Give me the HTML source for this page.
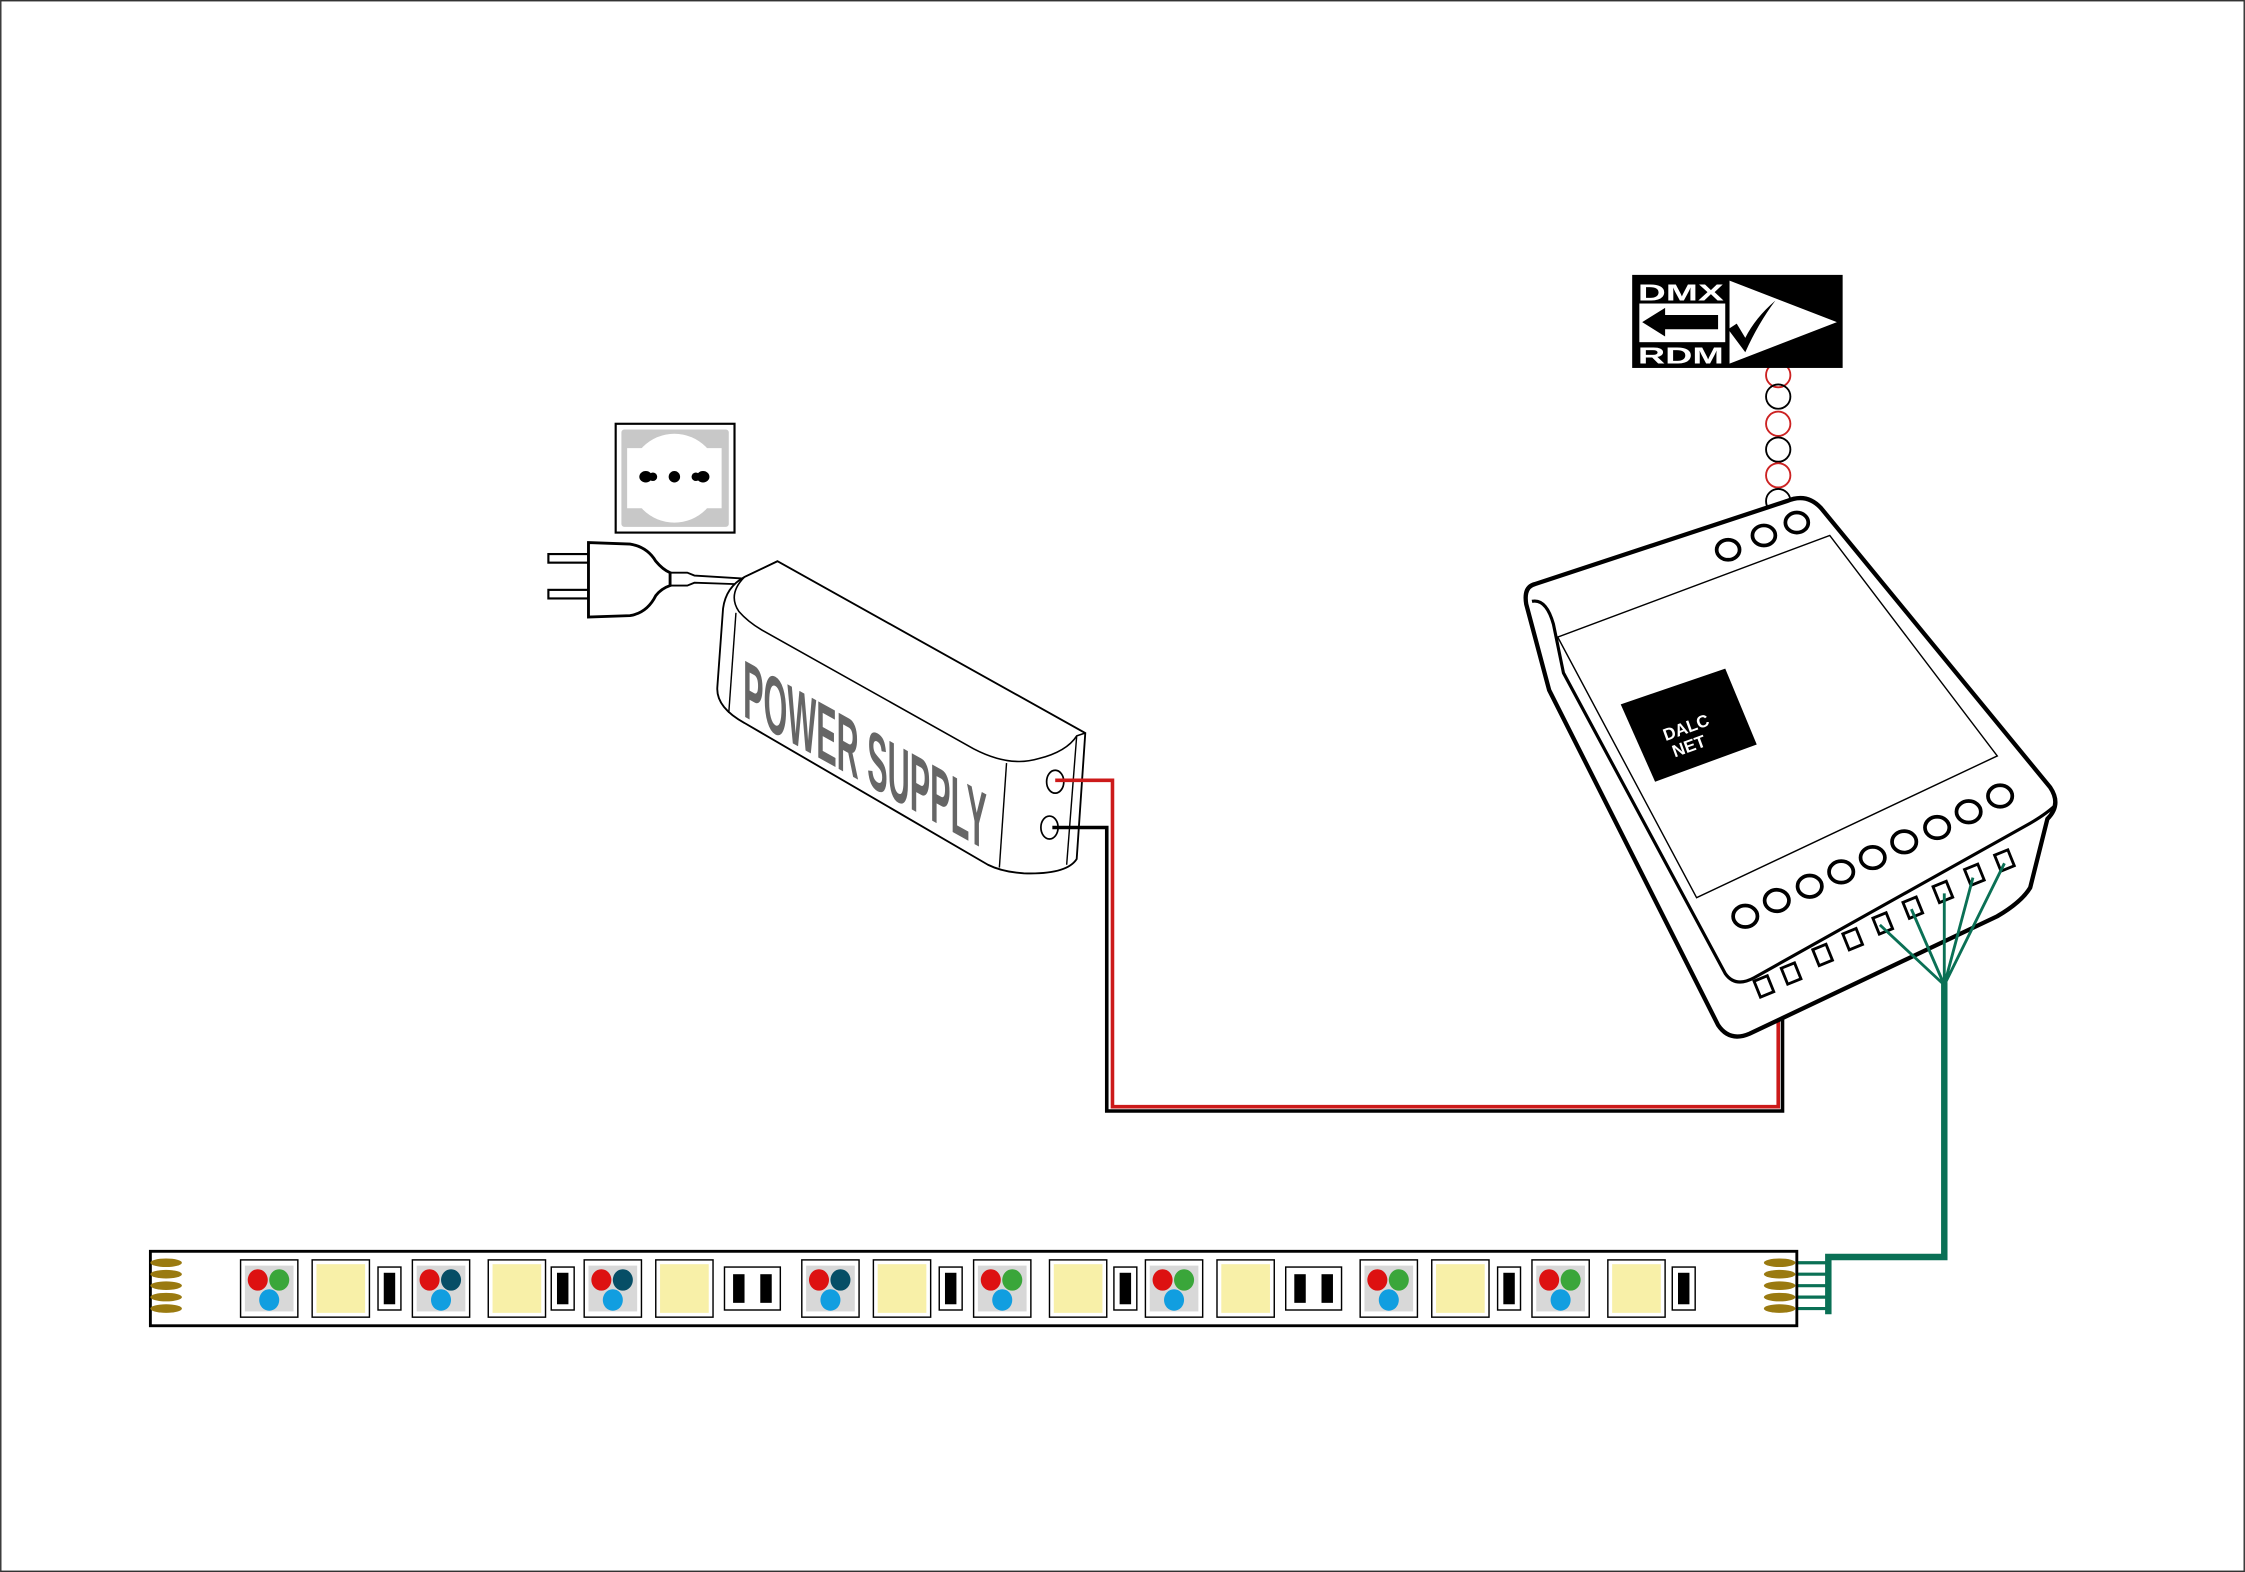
<!DOCTYPE html>
<html><head><meta charset="utf-8"><style>html,body{margin:0;padding:0;background:#fff}svg{display:block}</style></head><body>
<svg width="2245" height="1572" viewBox="0 0 1568 1098" xmlns="http://www.w3.org/2000/svg" font-family="Liberation Sans, sans-serif">
<rect x="0.5" y="0.5" width="1567" height="1097" fill="#fff" stroke="#333" stroke-width="1"/>

<!-- socket -->
<rect x="430" y="296" width="83" height="76" fill="#fff" stroke="#000" stroke-width="1.5"/>
<rect x="434" y="300" width="75" height="68" rx="2" fill="#c8c8c8"/>
<circle cx="471" cy="334" r="31" fill="#fff"/>
<rect x="438" y="313" width="66" height="42" fill="#fff"/>
<ellipse cx="451" cy="333" rx="4.5" ry="4" fill="#000"/><ellipse cx="456" cy="333" rx="3" ry="3" fill="#000"/>
<circle cx="471" cy="333" r="4" fill="#000"/>
<ellipse cx="491" cy="333" rx="4.5" ry="4" fill="#000"/><ellipse cx="486" cy="333" rx="3" ry="3" fill="#000"/>

<!-- plug -->
<rect x="383" y="387" width="28" height="6" fill="#fff" stroke="#000" stroke-width="1.5"/>
<rect x="383" y="412" width="28" height="6" fill="#fff" stroke="#000" stroke-width="1.5"/>
<path d="M411,379 L440,380 Q452,382 458,392 Q463,398 468,400 L468,409 Q462,411 458,416 Q452,428 440,430 L411,431 Z" fill="#fff" stroke="#000" stroke-width="2"/>
<path d="M468,400 L480,400 L485,402 L518,404 M468,409 L480,409 L485,407 L514,408" fill="none" stroke="#000" stroke-width="1.3"/>

<!-- power supply -->
<path d="M543,392 L758,512 L752,600 Q745,611 715,610 Q700,609 690,604 L520,505 Q500,494 501,480 L505,425 Q507,410 520,403 Z" fill="#fff" stroke="#000" stroke-width="1.3"/>
<path d="M543,392 L520,403 M520,403 Q508,415 516,427 Q522,434 532,440 L680,523 Q705,536 725,530 Q745,525 752,514 L758,512" fill="none" stroke="#000" stroke-width="1.1"/>
<line x1="514" y1="428" x2="509" y2="498" stroke="#000" stroke-width="1"/>
<line x1="703" y1="533" x2="698" y2="606" stroke="#000" stroke-width="1"/>
<line x1="752" y1="514" x2="745" y2="604" stroke="#000" stroke-width="1"/>
<text transform="translate(519,500) skewY(29) scale(0.66,1.9)" font-size="30" font-weight="bold" fill="#666" textLength="258" lengthAdjust="spacingAndGlyphs">POWER SUPPLY</text>
<ellipse cx="737" cy="546" rx="6" ry="8" fill="#fff" stroke="#000" stroke-width="1.2"/>
<ellipse cx="733" cy="578" rx="6" ry="8" fill="#fff" stroke="#000" stroke-width="1.2"/>

<!-- power wires -->
<path d="M735,578 L773,578 L773,776 L1245,776 L1245,696 L1253,680" fill="none" stroke="#000" stroke-width="2.5"/>
<path d="M737,545 L777,545 L777,773 L1242,773 L1242,705 L1234,690" fill="none" stroke="#cc1a1a" stroke-width="2.5"/>

<!-- DMX coil -->
<g fill="none" stroke-width="1.3">
<circle cx="1242" cy="262" r="8.5" stroke="#c22"/>
<circle cx="1242" cy="277" r="8.5" stroke="#000"/>
<circle cx="1242" cy="296" r="8.5" stroke="#c22"/>
<circle cx="1242" cy="314" r="8.5" stroke="#000"/>
<circle cx="1242" cy="332" r="8.5" stroke="#c22"/>
<circle cx="1242" cy="350" r="8.5" stroke="#000"/>
</g>
<!-- DMX badge -->
<rect x="1140" y="192" width="147" height="65" fill="#000"/>
<path d="M1208,196 L1283,225 L1208,254 Z" fill="#fff"/>
<rect x="1145" y="212" width="60" height="27" fill="#fff"/>
<path d="M1147,225 L1163,215 L1163,220 L1200,220 L1200,230 L1163,230 L1163,235 Z" fill="#000"/>
<path d="M1207,230 L1213,226 L1219,236 Q1226,222 1240,210 Q1228,226 1219,246 Z" fill="#000"/>
<text x="1144" y="210" font-size="16" font-weight="bold" fill="#fff" textLength="60" lengthAdjust="spacingAndGlyphs">DMX</text>
<text x="1144" y="254" font-size="16" font-weight="bold" fill="#fff" textLength="60" lengthAdjust="spacingAndGlyphs">RDM</text>

<!-- controller -->
<path d="M1072,408 L1248,350 Q1262,344 1272,355 L1432,550 Q1440,562 1430,572 L1418,620 Q1412,630 1395,640 L1222,722 Q1208,728 1200,716 L1082,482 L1066,422 Q1064,410 1072,408 Z" fill="#fff" stroke="#000" stroke-width="3"/>
<path d="M1070,420 Q1080,418 1085,436 L1092,470 L1205,680 Q1212,690 1225,683 L1418,575 Q1430,568 1436,562" fill="none" stroke="#000" stroke-width="2.2"/>
<path d="M1088,445 L1278,374 L1395,528 L1185,627 Z" fill="#fff" stroke="#000" stroke-width="1"/>
<path d="M1132,492 L1205,467 L1227,520 L1156,546 Z" fill="#000"/>
<text transform="translate(1179,512) rotate(-20)" font-size="12" fill="#fff" text-anchor="middle" font-weight="bold">DALC</text>
<text transform="translate(1181,525) rotate(-20)" font-size="12" fill="#fff" text-anchor="middle" font-weight="bold">NET</text>
<g fill="#fff" stroke="#000" stroke-width="2.6">
<ellipse cx="1207" cy="384" rx="8" ry="7"/><ellipse cx="1232" cy="374" rx="8" ry="7"/><ellipse cx="1255" cy="365" rx="8" ry="7"/>
<ellipse cx="1219" cy="640" rx="8.5" ry="7.5"/><ellipse cx="1241" cy="629" rx="8.5" ry="7.5"/><ellipse cx="1264" cy="619" rx="8.5" ry="7.5"/><ellipse cx="1286" cy="609" rx="8.5" ry="7.5"/><ellipse cx="1308" cy="599" rx="8.5" ry="7.5"/><ellipse cx="1330" cy="588" rx="8.5" ry="7.5"/><ellipse cx="1353" cy="578" rx="8.5" ry="7.5"/><ellipse cx="1375" cy="567" rx="8.5" ry="7.5"/><ellipse cx="1397" cy="556" rx="8.5" ry="7.5"/>
</g>
<g fill="#fff" stroke="#000" stroke-width="2">
<rect x="-5" y="-6" width="10" height="12" transform="translate(1232,689) rotate(-22)"/>
<rect x="-5" y="-6" width="10" height="12" transform="translate(1251,680) rotate(-22)"/>
<rect x="-5" y="-6" width="10" height="12" transform="translate(1273,667) rotate(-22)"/>
<rect x="-5" y="-6" width="10" height="12" transform="translate(1294,656) rotate(-22)"/>
<rect x="-5" y="-6" width="10" height="12" transform="translate(1315,645) rotate(-22)"/>
<rect x="-5" y="-6" width="10" height="12" transform="translate(1336,634) rotate(-22)"/>
<rect x="-5" y="-6" width="10" height="12" transform="translate(1357,623) rotate(-22)"/>
<rect x="-5" y="-6" width="10" height="12" transform="translate(1379,611) rotate(-22)"/>
<rect x="-5" y="-6" width="10" height="12" transform="translate(1400,601) rotate(-22)"/>
</g>
<!-- green wires -->
<g stroke="#0a7055" fill="none">
<path d="M1313,646 L1358,688 M1335,635 L1358,688 M1358,624 L1358,688 M1378,613 L1358,688 M1400,603 L1358,688" stroke-width="2"/>
<path d="M1358,686 L1358,878 L1277,878 L1277,918" stroke-width="4.5"/>
<path d="M1240,882 L1277,882 M1240,890 L1277,890 M1240,898 L1277,898 M1240,906 L1277,906 M1240,914 L1277,914" stroke-width="2.2"/>
</g>

<!-- LED strip -->
<rect x="105" y="874" width="1150" height="52" fill="#fff" stroke="#000" stroke-width="2"/>
<g fill="#9a7a10">
<ellipse cx="116" cy="882" rx="11" ry="3"/><ellipse cx="116" cy="890" rx="11" ry="3"/><ellipse cx="116" cy="898" rx="11" ry="3"/><ellipse cx="116" cy="906" rx="11" ry="3"/><ellipse cx="116" cy="914" rx="11" ry="3"/>
<ellipse cx="1243" cy="882" rx="11" ry="3"/><ellipse cx="1243" cy="890" rx="11" ry="3"/><ellipse cx="1243" cy="898" rx="11" ry="3"/><ellipse cx="1243" cy="906" rx="11" ry="3"/><ellipse cx="1243" cy="914" rx="11" ry="3"/>
</g>
<defs>
<g id="rgbG"><rect x="0" y="0" width="40" height="40" fill="#fff" stroke="#000" stroke-width="1"/><rect x="3" y="4" width="34" height="32" fill="#d8d8d8"/><ellipse cx="12" cy="14" rx="7" ry="7.5" fill="#d11"/><ellipse cx="27" cy="14" rx="7" ry="7.5" fill="#3aa63a"/><ellipse cx="20" cy="28" rx="7" ry="7.5" fill="#119ee0"/></g>
<g id="rgbT"><rect x="0" y="0" width="40" height="40" fill="#fff" stroke="#000" stroke-width="1"/><rect x="3" y="4" width="34" height="32" fill="#d8d8d8"/><ellipse cx="12" cy="14" rx="7" ry="7.5" fill="#d11"/><ellipse cx="27" cy="14" rx="7" ry="7.5" fill="#064e66"/><ellipse cx="20" cy="28" rx="7" ry="7.5" fill="#119ee0"/></g>
<g id="warm"><rect x="0" y="0" width="40" height="40" fill="#fff" stroke="#000" stroke-width="1"/><rect x="3" y="3" width="34" height="34" fill="#f8f0a8"/></g>
<g id="r1"><rect x="0" y="5" width="16" height="30" fill="#fff" stroke="#000" stroke-width="1"/><rect x="4" y="9" width="8" height="22" fill="#000"/></g>
<g id="r2"><rect x="0" y="5" width="39" height="30" fill="#fff" stroke="#000" stroke-width="1"/><rect x="6" y="10" width="8" height="20" fill="#000"/><rect x="25" y="10" width="8" height="20" fill="#000"/></g>
</defs>
<g transform="translate(0,880)">
<use href="#rgbG" x="168"/><use href="#warm" x="218"/><use href="#r1" x="264"/>
<use href="#rgbT" x="288"/><use href="#warm" x="341"/><use href="#r1" x="385"/>
<use href="#rgbT" x="408"/><use href="#warm" x="458"/><use href="#r2" x="506"/>
<use href="#rgbT" x="560"/><use href="#warm" x="610"/><use href="#r1" x="656"/>
<use href="#rgbG" x="680"/><use href="#warm" x="733"/><use href="#r1" x="778"/>
<use href="#rgbG" x="800"/><use href="#warm" x="850"/><use href="#r2" x="898"/>
<use href="#rgbG" x="950"/><use href="#warm" x="1000"/><use href="#r1" x="1046"/>
<use href="#rgbG" x="1070"/><use href="#warm" x="1123"/><use href="#r1" x="1168"/>
</g>
</svg>
</body></html>
